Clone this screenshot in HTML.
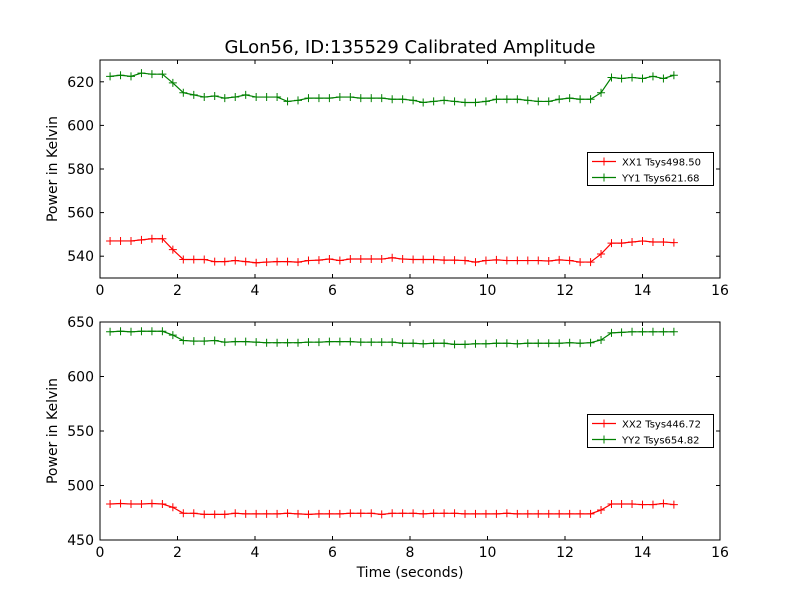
<!DOCTYPE html>
<html><head><meta charset="utf-8"><style>
html,body{margin:0;padding:0;background:#fff;}
svg{display:block;font-family:"DejaVu Sans","Liberation Sans",sans-serif;}
</style></head><body>
<svg id="chart" width="800" height="600" viewBox="0 0 800 600" xmlns="http://www.w3.org/2000/svg">
<rect width="800" height="600" fill="#fff"/>
<text x="410" y="53" font-size="18" text-anchor="middle">GLon56, ID:135529 Calibrated Amplitude</text>
<text x="410" y="577" font-size="14" text-anchor="middle">Time (seconds)</text>
<g id="g"></g>
</svg>
<script>
const times=[0.26,0.53,0.80,1.07,1.34,1.61,1.88,2.15,2.42,2.69,2.96,3.22,3.49,3.76,4.03,4.30,4.57,4.84,5.11,5.38,5.65,5.92,6.19,6.46,6.73,7.00,7.27,7.54,7.81,8.08,8.34,8.61,8.88,9.15,9.42,9.69,9.96,10.23,10.50,10.77,11.04,11.31,11.58,11.85,12.12,12.39,12.66,12.93,13.20,13.46,13.73,14.00,14.27,14.54,14.81];
const xx1=[547,547,547,547.5,548,548,543,538.5,538.5,538.5,537.5,537.5,538,537.5,537,537.3,537.5,537.5,537.3,538,538.2,538.7,538,538.7,538.7,538.7,538.7,539.3,538.7,538.5,538.5,538.5,538.2,538.2,538,537.3,538,538.3,538,538,538,538,537.8,538.3,538,537.3,537.3,541,546,546,546.5,547,546.5,546.5,546.2];
const yy1=[622.5,623,622.5,624,623.5,623.5,619.5,615,614,613,613.5,612.5,613,614,613,613,613,611,611.5,612.5,612.5,612.5,613,613,612.5,612.5,612.5,612,612,611.5,610.5,611,611.5,611,610.5,610.5,611,612,612,612,611.5,611,611,612,612.5,612,612,615,622,621.5,622,621.5,622.5,621.5,623];
const xx2=[483,483.5,483,483,483.5,483,480,474.5,474.5,473.5,473.5,473.5,474.5,474,474,474,474,474.5,474,473.5,474,474,474,474.5,474.5,474.5,473.5,474.5,474.5,474.5,474,474.5,474.5,474.5,474,474,474,474,474.5,474,474,474,474,474,474,474,474,477.5,483,483,483,482.5,482.5,483.5,482.5];
const yy2=[641,641.5,641,641.5,641.5,641.5,638,633,632.5,632.5,633,631.5,632,632,631.5,631,631,631,631,631.5,631.5,632,632,632,631.5,631.5,631.5,631.5,630.5,630.5,630,630.5,630.5,629.5,629.5,630,630,630.5,630.5,630,630.5,630.5,630.5,630.5,631,630.5,631,633.5,640,640.5,641,641,641,641,641];
const xTicks=[0,2,4,6,8,10,12,14,16];
const yTicks1=[540,560,580,600,620];
const yTicks2=[450,500,550,600,650];
const legend1=["XX1 Tsys498.50","YY1 Tsys621.68"];
const legend2=["XX2 Tsys446.72","YY2 Tsys654.82"];

const NS="http://www.w3.org/2000/svg";
const root=document.getElementById('g');
function mk(tag,attrs,parent,name){const e=document.createElementNS(NS,tag);for(const k in attrs)e.setAttribute(k,attrs[k]);


(parent||root).appendChild(e);return e;}

function panel(p,top,bot,ymin,ymax,yT,series,leg,legY,pname){
  const L=100,R=720,X0=0,X1=16;
  const sx=v=>L+(v-X0)/(X1-X0)*(R-L);
  const sy=v=>bot-(v-ymin)/(ymax-ymin)*(bot-top);
  const g=mk('g',{},root,pname);
  xTicks.forEach(t=>{const x=sx(t);
    mk('line',{x1:x,x2:x,y1:bot,y2:bot-4,stroke:'#000'},g,'x-tick');
    mk('line',{x1:x,x2:x,y1:top,y2:top+4,stroke:'#000'},g,'x-tick');
    const tx=mk('text',{x:x,y:bot+17,'font-size':14,'text-anchor':'middle'},g,'x-tick-label');tx.textContent=t;});
  yT.forEach(t=>{const y=sy(t);
    mk('line',{x1:L,x2:L+4,y1:y,y2:y,stroke:'#000'},g,'y-tick');
    mk('line',{x1:R,x2:R-4,y1:y,y2:y,stroke:'#000'},g,'y-tick');
    const tx=mk('text',{x:L-6,y:y+5,'font-size':14,'text-anchor':'end'},g,'y-tick-label');tx.textContent=t;});
  const yl=mk('text',{x:0,y:0,'font-size':14,'text-anchor':'middle',transform:`translate(57,${(top+bot)/2}) rotate(-90)`},g,'y-axis-title');yl.textContent="Power in Kelvin";
  const cols=['#ff0000','#008000'];
  series.forEach((s,si)=>{
    const pts=s.map((v,i)=>sx(times[i])+','+sy(v)).join(' ');
    mk('polyline',{points:pts,fill:'none',stroke:cols[si],'stroke-width':1.2},g,si?'yy-line':'xx-line');
    s.forEach((v,i)=>{const x=sx(times[i]),y=sy(v);
      mk('path',{d:`M${x-4},${y}H${x+4}M${x},${y-4}V${y+4}`,stroke:cols[si],'stroke-width':1},g,si?'yy-point':'xx-point');});
  });
  mk('rect',{x:L,y:top,width:R-L,height:bot-top,fill:'none',stroke:'#000','stroke-width':1},g,'plot-frame');
  const lg=mk('g',{},g,'legend');
  mk('rect',{x:587.5,y:legY,width:126,height:33,fill:'#fff',stroke:'#000','stroke-width':1},lg,'legend-box');
  leg.forEach((t,i)=>{const y=legY+9+i*16;
    mk('line',{x1:592,x2:616,y1:y,y2:y,stroke:cols[i],'stroke-width':1.2},lg,'legend-line');
    mk('path',{d:`M604,${y-4}V${y+4}`,stroke:cols[i]},lg,'legend-marker');
    const tx=mk('text',{x:622,y:y+4,'font-size':10},lg,'legend-entry');tx.textContent=t;});
}
panel(1,60,278,530,630,yTicks1,[xx1,yy1],legend1,152.5,'top-panel');
panel(2,322,540,450,650,yTicks2,[xx2,yy2],legend2,414.5,'bottom-panel');
</script>
</body></html>
